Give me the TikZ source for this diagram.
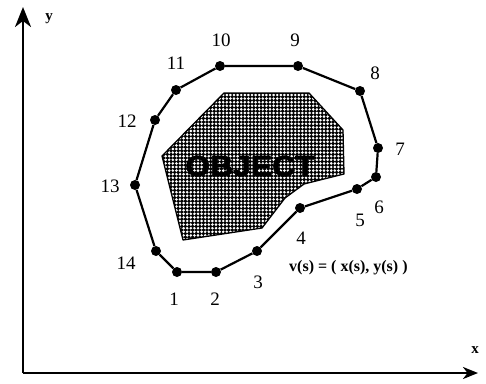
\documentclass[tikz,border=0pt]{standalone}
\usepackage{fontspec}
\setmainfont{Liberation Serif}
\newfontface\objfont{Liberation Sans Bold}[FakeBold=2]
\usetikzlibrary{arrows.meta,patterns.meta}
\tikzdeclarepattern{
  name=objdots,
  type=colored,
  bottom left={(-1.8pt,-1.8pt)},
  top right={(1.8pt,1.8pt)},
  tile size={(3.6pt,3.6pt)},
  code={\fill[white] (0pt,0pt) circle (1.45pt);}
}
\tikzset{
  pt/.style={circle,fill=black,inner sep=0pt,minimum size=10pt},
  num/.style={inner sep=0pt,font=\fontsize{19}{19}\selectfont},
  contour/.style={line width=2.2pt,line join=round},
  axis/.style={line width=2.4pt},
}
\begin{document}
\begin{tikzpicture}[x=1pt,y=-1pt]
\useasboundingbox (0,0) rectangle (486,383);
% axes
\coordinate (o) at (23,373);
\coordinate (ytip) at (23,7);
\coordinate (xtip) at (478,373);
\draw[axis,-{Stealth[length=20pt,width=16pt,inset=6pt]}] (o) -- (ytip);
\draw[axis,-{Stealth[length=15pt,width=12pt,inset=4.5pt]}] (o) -- (xtip);
\node[inner sep=0pt,anchor=base,font=\fontsize{15}{15}\selectfont\bfseries] (ylab) at (49,20) {y};
\node[inner sep=0pt,anchor=base,font=\fontsize{15}{15}\selectfont\bfseries] (xlab) at (475,353) {x};
% object
\coordinate (a1) at (224,93);
\coordinate (a2) at (309,93);
\coordinate (a3) at (343,130);
\coordinate (a4) at (344,174);
\coordinate (a5) at (304,184);
\coordinate (a6) at (285,198);
\coordinate (a7) at (262,228);
\coordinate (a8) at (183,240);
\coordinate (a9) at (162,156);
\fill[black] (a1)--(a2)--(a3)--(a4)--(a5)--(a6)--(a7)--(a8)--(a9)--cycle;
\fill[pattern=objdots] (a1)--(a2)--(a3)--(a4)--(a5)--(a6)--(a7)--(a8)--(a9)--cycle;
\draw[line width=1.3pt,line join=round] (a1)--(a2)--(a3)--(a4)--(a5)--(a6)--(a7)--(a8)--(a9)--cycle;
\node[inner sep=0pt,xscale=1.1,text=black,font=\objfont\fontsize{29}{29}\selectfont] (obj) at (250,166) {OBJECT};
% contour points
\node[pt] (p1) at (177,272) {};
\node[pt] (p2) at (216,272) {};
\node[pt] (p3) at (257,251) {};
\node[pt] (p4) at (300,208) {};
\node[pt] (p5) at (357,189) {};
\node[pt] (p6) at (376,177) {};
\node[pt] (p7) at (378,148) {};
\node[pt] (p8) at (360,91) {};
\node[pt] (p9) at (298,66) {};
\node[pt] (p10) at (220,66) {};
\node[pt] (p11) at (176,90) {};
\node[pt] (p12) at (155,120) {};
\node[pt] (p13) at (135,185) {};
\node[pt] (p14) at (156,251) {};
\draw[contour] (p1)--(p2)--(p3)--(p4)--(p5)--(p6)--(p7)--(p8)--(p9)--(p10)--(p11)--(p12)--(p13)--(p14)--(p1);
% labels
\node[num] (l1) at (174,299) {1};
\node[num] (l2) at (215,299) {2};
\node[num] (l3) at (258,282) {3};
\node[num] (l4) at (301,238) {4};
\node[num] (l5) at (360,220) {5};
\node[num] (l6) at (379,207) {6};
\node[num] (l7) at (400,149) {7};
\node[num] (l8) at (375,73) {8};
\node[num] (l9) at (295,40) {9};
\node[num] (l10) at (221,40) {10};
\node[num] (l11) at (176,63) {11};
\node[num] (l12) at (127,121) {12};
\node[num] (l13) at (110,186) {13};
\node[num] (l14) at (126,263) {14};
\node[inner sep=0pt,anchor=base west,font=\fontsize{16}{16}\selectfont\bfseries] (eq) at (289,271) {v(s) = ( x(s), y(s) )};
\end{tikzpicture}
\end{document}
